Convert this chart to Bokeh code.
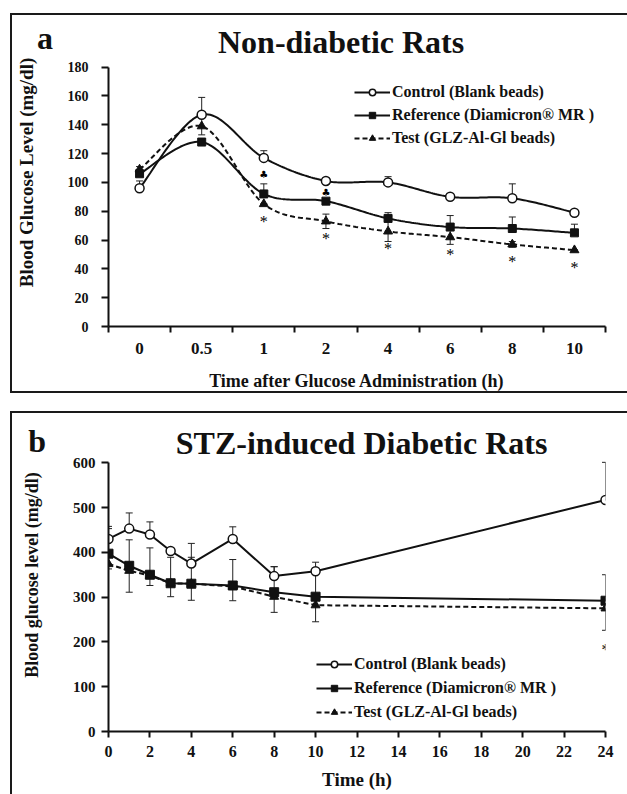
import numpy as np
from bokeh.plotting import figure
from bokeh.models import (ColumnDataSource, FixedTicker, Legend, LegendItem, Label,
                          Whisker, TeeHead, Range1d)
from bokeh.layouts import column
from bokeh.embed import file_html
from bokeh.resources import INLINE
from bokeh.core.properties import value

FONT = "Liberation Serif"

# ---------------- Panel a : Non-diabetic rats ----------------
a_categories = ["0", "0.5", "1", "2", "4", "6", "8", "10"]
a_control = [96, 147, 117, 101, 100, 90, 89, 79]
a_control_err = [5, 12, 5, 0, 4, 0, 10, 0]
a_reference = [106, 128, 92, 87, 75, 69, 68, 65]
a_reference_err = [0, 2, 7, 0, 4, 8, 8, 6]
a_test = [109, 139, 85, 73, 66, 62, 57, 53]
a_test_err = [2, 6, 0, 5, 7, 5, 2, 0]
a_star_idx = [2, 3, 4, 5, 6, 7]
a_club_idx = [2, 3]
a_yticks = list(range(0, 181, 20))
a_ymax = 180

# ---------------- Panel b : STZ-induced diabetic rats ----------------
b_time = [0, 1, 2, 3, 4, 6, 8, 10, 24]
b_control = [430, 453, 440, 403, 375, 430, 347, 358, 517]
b_control_err = [28, 35, 28, 0, 45, 27, 21, 20, 84]
b_reference = [397, 370, 350, 331, 330, 326, 311, 301, 292]
b_reference_err = [56, 58, 60, 58, 59, 58, 57, 57, 58]
b_test = [374, 359, 348, 331, 330, 324, 301, 282, 275]
b_test_err = [11, 48, 22, 30, 37, 32, 35, 37, 49]
b_star_idx = [8]
b_xticks = list(range(0, 25, 2))
b_yticks = list(range(0, 601, 100))
b_ymax = 600

labels = ["Control (Blank beads)", "Reference (Diamicron\u00ae MR )", "Test (GLZ-Al-Gl beads)"]


def smooth(xs, ys, n=30):
    """Excel-like smoothed line (cubic Bezier through the points)."""
    xs = np.asarray(xs, float)
    ys = np.asarray(ys, float)
    px = np.concatenate([[xs[0]], xs, [xs[-1]]])
    py = np.concatenate([[ys[0]], ys, [ys[-1]]])
    t = np.linspace(0, 1, n)[:, None]
    outx, outy = [], []
    for i in range(len(xs) - 1):
        p0 = np.array([px[i], py[i]])
        p1 = np.array([px[i + 1], py[i + 1]])
        p2 = np.array([px[i + 2], py[i + 2]])
        p3 = np.array([px[i + 3], py[i + 3]])
        c1 = p1 + (p2 - p0) / 6.0
        c2 = p2 - (p3 - p1) / 6.0
        pts = ((1 - t) ** 3) * p1 + 3 * ((1 - t) ** 2) * t * c1 + 3 * (1 - t) * t ** 2 * c2 + t ** 3 * p2
        outx.extend(pts[:, 0])
        outy.extend(pts[:, 1])
    return outx, outy


def style_axes(p, xfs, yfs, xlfs, ylfs):
    for ax in (p.xaxis[0], p.yaxis[0]):
        ax.axis_line_width = 2
        ax.axis_line_color = "#111111"
        ax.major_tick_line_width = 2
        ax.major_tick_line_color = "#111111"
        ax.major_tick_in = 0
        ax.major_tick_out = 7
        ax.minor_tick_line_color = None
        ax.major_label_text_font = FONT
        ax.major_label_text_font_style = "bold"
        ax.major_label_text_color = "#111111"
        ax.axis_label_text_font = FONT
        ax.axis_label_text_font_style = "bold"
        ax.axis_label_text_color = "#111111"
    p.xaxis[0].axis_label_text_font_size = xlfs
    p.yaxis[0].axis_label_text_font_size = ylfs
    p.xaxis[0].major_label_text_font_size = xfs
    p.yaxis[0].major_label_text_font_size = yfs
    p.xgrid.visible = False
    p.ygrid.visible = False
    p.outline_line_color = None


def add_whisker(p, x, lo, hi, upper_cap=True, lower_cap=True):
    src = ColumnDataSource(dict(x=x, lower=lo, upper=hi))
    w = Whisker(base="x", lower="lower", upper="upper", source=src, dimension="height",
                line_color="#222222", line_width=1,
                upper_head=TeeHead(size=7, line_color="#222222", line_width=1) if upper_cap else None,
                lower_head=TeeHead(size=7, line_color="#222222", line_width=1) if lower_cap else None,
                level="underlay")
    p.add_layout(w)


border = "2px solid #1a1a1a"

# ======================= Figure a =======================
# element box includes its 2px borders; frame height 304 px, value 180 sits 48 px below its top
pa = figure(width=617, height=380, output_backend="svg", toolbar_location=None,
            x_range=Range1d(-0.5, len(a_categories) - 0.5),
            y_range=Range1d(0, a_ymax * 304.0 / 256.0),
            min_border_left=91, min_border_right=24, min_border_top=3, min_border_bottom=69,
            background_fill_color="white", border_fill_color="white",
            styles={"border-left": border, "border-top": border, "border-bottom": border})
pa.margin = (13, 0, 0, 10)
style_axes(pa, "17px", "14px", "18px", "19px")

ax_pos = list(range(len(a_categories)))
pa.xaxis[0].ticker = FixedTicker(ticks=ax_pos, minor_ticks=[i - 0.5 for i in range(len(a_categories) + 1)])
pa.xaxis[0].major_label_overrides = {i: c for i, c in enumerate(a_categories)}
pa.xaxis[0].major_tick_out = 0
pa.xaxis[0].minor_tick_line_color = "#111111"
pa.xaxis[0].minor_tick_line_width = 2
pa.xaxis[0].minor_tick_out = 6
pa.xaxis[0].minor_tick_in = 0
pa.xaxis[0].major_label_standoff = 10
pa.xaxis[0].axis_label = "Time after Glucose Administration (h)"
pa.xaxis[0].axis_label_standoff = 14
pa.yaxis[0].ticker = FixedTicker(ticks=a_yticks)
pa.yaxis[0].bounds = (0, a_ymax)
pa.yaxis[0].major_label_standoff = 13
pa.yaxis[0].axis_label = "Blood Glucose Level (mg/dl)"
pa.yaxis[0].axis_label_standoff = 28

# error bars
add_whisker(pa, ax_pos, a_control, [v + e for v, e in zip(a_control, a_control_err)], True, False)
add_whisker(pa, ax_pos, a_reference, [v + e for v, e in zip(a_reference, a_reference_err)], True, False)
add_whisker(pa, ax_pos, [v - e for v, e in zip(a_test, a_test_err)],
            [v + e for v, e in zip(a_test, a_test_err)], True, True)

sx, sy = smooth(ax_pos, a_control)
la1 = pa.line(sx, sy, line_color="#111111", line_width=2)
sx, sy = smooth(ax_pos, a_reference)
la2 = pa.line(sx, sy, line_color="#111111", line_width=2)
sx, sy = smooth(ax_pos, a_test)
la3 = pa.line(sx, sy, line_color="#111111", line_width=2, line_dash="5 3")

ma1 = pa.scatter(ax_pos, a_control, marker="circle", size=9, fill_color="white",
                 line_color="#111111", line_width=1.5)
ma2 = pa.scatter(ax_pos, a_reference, marker="square", size=8, fill_color="#111111",
                 line_color="#111111")
ma3 = pa.scatter(ax_pos, a_test, marker="triangle", size=9, fill_color="#111111",
                 line_color="#111111")

pa.text([ax_pos[i] for i in a_star_idx], [a_test[i] for i in a_star_idx], text=["*"] * len(a_star_idx),
        text_font=value(FONT), text_font_size="16px", text_align="center", text_baseline="middle",
        y_offset=17, text_color="black")
pa.text([ax_pos[i] for i in a_club_idx], [a_reference[i] + a_reference_err[i] for i in a_club_idx],
        text=["\u2663"] * len(a_club_idx), text_font=value("DejaVu Sans"), text_font_size="10px",
        text_align="center", text_baseline="middle", y_offset=-9, text_color="black")

leg_a = Legend(items=[LegendItem(label=labels[0], renderers=[la1, ma1]),
                      LegendItem(label=labels[1], renderers=[la2, ma2]),
                      LegendItem(label=labels[2], renderers=[la3, ma3])],
               location=(246, 179), padding=0, margin=0, spacing=5, glyph_width=36, glyph_height=16,
               label_height=16, label_standoff=2, border_line_color=None, background_fill_alpha=0,
               label_text_font=FONT, label_text_font_style="bold", label_text_font_size="16px",
               label_text_color="#111111")
pa.add_layout(leg_a, "center")

pa.add_layout(Label(x=3.244, y=197.6, text="Non-diabetic Rats", text_font=FONT, text_font_style="bold",
                    text_font_size="32px", text_align="center", text_baseline="alphabetic",
                    text_color="#111111"))
pa.add_layout(Label(x=-1.524, y=200, text="a", text_font=FONT, text_font_style="bold",
                    text_font_size="32px", text_align="center", text_baseline="alphabetic",
                    text_color="#111111"), "right")

# ======================= Figure b =======================
# element box includes its 2px top/left borders; frame height 311 px, value 600 sits 44 px below its top
pb = figure(width=617, height=383, output_backend="svg", toolbar_location=None,
            x_range=Range1d(0, 24), y_range=Range1d(0, b_ymax * 311.0 / 267.0),
            min_border_left=96, min_border_right=24, min_border_top=5, min_border_bottom=65,
            background_fill_color="white", border_fill_color="white",
            styles={"border-left": border, "border-top": border})
pb.margin = (18, 0, 0, 10)
style_axes(pb, "16px", "15px", "19px", "18px")
pb.xaxis[0].ticker = FixedTicker(ticks=b_xticks)
pb.xaxis[0].major_tick_out = 6
pb.xaxis[0].major_label_standoff = 8
pb.xaxis[0].axis_label = "Time (h)"
pb.xaxis[0].axis_label_standoff = 9
pb.yaxis[0].ticker = FixedTicker(ticks=b_yticks)
pb.yaxis[0].bounds = (0, b_ymax)
pb.yaxis[0].major_label_standoff = 6
pb.yaxis[0].axis_label = "Blood glucose level (mg/dl)"
pb.yaxis[0].axis_label_standoff = 28

add_whisker(pb, b_time, b_control, [v + e for v, e in zip(b_control, b_control_err)], True, False)
add_whisker(pb, b_time, b_reference, [v + e for v, e in zip(b_reference, b_reference_err)], True, False)
add_whisker(pb, b_time, [v - e for v, e in zip(b_test, b_test_err)], b_test, False, True)

lb1 = pb.line(b_time, b_control, line_color="#111111", line_width=2)
lb2 = pb.line(b_time, b_reference, line_color="#111111", line_width=2)
lb3 = pb.line(b_time, b_test, line_color="#111111", line_width=2, line_dash="5 3")
mb1 = pb.scatter(b_time, b_control, marker="circle", size=9, fill_color="white",
                 line_color="#111111", line_width=1.5)
mb2 = pb.scatter(b_time, b_reference, marker="square", size=9, fill_color="#111111", line_color="#111111")
mb3 = pb.scatter(b_time, b_test, marker="triangle", size=9, fill_color="#111111", line_color="#111111")

pb.text([b_time[i] for i in b_star_idx], [b_test[i] - b_test_err[i] for i in b_star_idx],
        text=["*"] * len(b_star_idx), text_font=value(FONT), text_font_size="16px",
        text_align="center", text_baseline="middle", y_offset=19, text_color="black")

leg_b = Legend(items=[LegendItem(label=labels[0], renderers=[lb1, mb1]),
                      LegendItem(label=labels[1], renderers=[lb2, mb2]),
                      LegendItem(label=labels[2], renderers=[lb3, mb3])],
               location=(208, 10), padding=0, margin=0, spacing=6, glyph_width=36, glyph_height=16,
               label_height=16, label_standoff=2, border_line_color=None, background_fill_alpha=0,
               label_text_font=FONT, label_text_font_style="bold", label_text_font_size="16px",
               label_text_color="#111111")
pb.add_layout(leg_b, "center")

pb.add_layout(Label(x=12.22, y=645, text="STZ-induced Diabetic Rats", text_font=FONT,
                    text_font_style="bold", text_font_size="32px", text_align="center",
                    text_baseline="alphabetic", text_color="#111111"))
pb.add_layout(Label(x=-3.44, y=649, text="b", text_font=FONT, text_font_style="bold",
                    text_font_size="32px", text_align="center", text_baseline="alphabetic",
                    text_color="#111111"), "right")

layout = column(pa, pb)
open("out.html", "w").write(file_html(layout, INLINE))
